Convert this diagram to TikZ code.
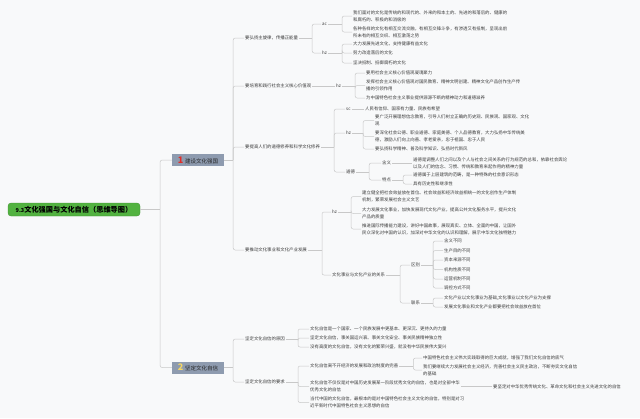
\documentclass[tikz,border=0pt]{standalone}
\usepackage{fontspec}
\setmainfont{Noto Sans CJK SC}
\XeTeXlinebreaklocale "zh"
\definecolor{bggray}{RGB}{248,249,250}
\definecolor{rootgreen}{RGB}{82,178,64}
\definecolor{topicblue}{RGB}{142,155,175}
\definecolor{linegray}{RGB}{200,200,200}
\definecolor{txtgray}{RGB}{60,60,60}
\definecolor{numred}{RGB}{225,45,40}
\definecolor{numyellow}{RGB}{245,215,100}
\begin{document}
\begin{tikzpicture}[x=1pt,y=-1pt,
    leaf/.style={anchor=west,inner sep=1pt,align=left,text=txtgray,font=\fontsize{4.4}{7}\selectfont},
    topic/.style={fill=topicblue,minimum width=52pt,minimum height=12pt,inner sep=0pt,text=black!85,font=\fontsize{5.5}{6}\selectfont},
    link/.style={draw=linegray,line width=0.5pt,rounded corners=2pt}]
    \fill[bggray] (0,0) rectangle (640,418);
    \node[fill=rootgreen,draw=rootgreen!80!black,line width=0.3pt,rounded corners=3pt,minimum width=132pt,minimum height=13pt,inner sep=0pt,font=\fontsize{7.2}{8}\selectfont\bfseries] (root) at (74,209.5) {{\fontsize{5.5}{6}\selectfont 9.3}文化强国与文化自信（思维导图）};
    \node[topic] (t1) at (198,160) {{\color{numred}\fontsize{9}{9}\selectfont\bfseries 1}\hspace{2pt}建设文化强国};
    \node[topic] (t2) at (198,367.5) {{\color{numyellow}\fontsize{9}{9}\selectfont\bfseries 2}\hspace{2pt}坚定文化自信};
    \draw[link] (root.east) -- ++(20,0) coordinate (rootj);
    \foreach \c in {t1,t2} \draw[link] (rootj) |- (\c.west);
    % 建设文化强国
    \node[leaf] (a) at (244,38) {要弘扬主旋律，传播正能量};
    \node[leaf] (b) at (244,86) {要培育和践行社会主义核心价值观};
    \node[leaf] (c) at (244,147) {要提高人们的道德修养和科学文化修养};
    \node[leaf] (d) at (244,250) {要推动文化事业和文化产业发展};
    \draw[link] (t1.east) -- ++(9,0) coordinate (t1j);
    \foreach \c in {a,b,c,d} \draw[link] (t1j) |- (\c.west);
    \node[leaf] (aac) at (321,24) {ac};
    \node[leaf] (ahz) at (321,53) {hz};
    \draw[link] (a.east) -- ++(13,0) coordinate (aj);
    \foreach \c in {aac,ahz} \draw[link] (aj) |- (\c.west);
    \node[leaf] (aac1) at (352,16) {我们面对的文化是传统的和现代的、外来的和本土的、先进的和落后的、健康的\\和腐朽的、积极的和消极的};
    \node[leaf] (aac2) at (352,32) {各种各样的文化有相互交流交融，有相互交锋斗争，有渗透又有抵制，呈现出前\\所未有的相互交织、相互激荡之势};
    \draw[link] (aac.east) -- ++(14,0) coordinate (aacj);
    \foreach \c in {aac1,aac2} \draw[link] (aacj) |- (\c.west);
    \node[leaf] (ahz1) at (352,44) {大力发展先进文化，支持健康有益文化};
    \node[leaf] (ahz2) at (352,53) {努力改造落后的文化};
    \node[leaf] (ahz3) at (352,63) {坚决抵制、抵御腐朽的文化};
    \draw[link] (ahz.east) -- ++(14,0) coordinate (ahzj);
    \foreach \c in {ahz1,ahz2,ahz3} \draw[link] (ahzj) |- (\c.west);
    \node[leaf] (bhz) at (335,86) {hz};
    \draw[link] (b.east) -- (bhz.west);
    \node[leaf] (bhz1) at (365,73) {要用社会主义核心价值观凝魂聚力};
    \node[leaf] (bhz2) at (365,85.5) {发挥社会主义核心价值观对国民教育、精神文明创建、精神文化产品创作生产传\\播的引领作用};
    \node[leaf] (bhz3) at (365,98) {为中国特色社会主义事业提供源源不断的精神动力和道德滋养};
    \draw[link] (bhz.east) -- ++(13,0) coordinate (bhzj);
    \foreach \c in {bhz1,bhz2,bhz3} \draw[link] (bhzj) |- (\c.west);
    \node[leaf] (csc) at (345,109) {sc};
    \node[leaf] (chz) at (345,133) {hz};
    \node[leaf] (cdd) at (345,172) {道德};
    \draw[link] (c.east) -- ++(13,0) coordinate (cj);
    \foreach \c in {csc,chz,cdd} \draw[link] (cj) |- (\c.west);
    \node[leaf] (csc1) at (364,109) {人民有信仰、国家有力量、民族有希望};
    \draw[link] (csc.east) -- (csc1.west);
    \node[leaf] (chz1) at (374,120.5) {要广泛开展理想信念教育，引导人们树立正确的历史观、民族观、国家观、文化\\观};
    \node[leaf] (chz2) at (374,136.5) {要深化社会公德、职业道德、家庭美德、个人品德教育，大力弘扬中华传统美\\德，激励人们向上向善、孝老爱亲，忠于祖国、忠于人民};
    \node[leaf] (chz3) at (374,149) {要弘扬科学精神、普及科学知识、弘扬时代新风};
    \draw[link] (chz.east) -- ++(11,0) coordinate (chzj);
    \foreach \c in {chz1,chz2,chz3} \draw[link] (chzj) |- (\c.west);
    \node[leaf] (cmean) at (381,163) {含义};
    \node[leaf] (cfeat) at (381,180) {特点};
    \draw[link] (cdd.east) -- ++(13,0) coordinate (cddj);
    \foreach \c in {cmean,cfeat} \draw[link] (cddj) |- (\c.west);
    \node[leaf] (cmean1) at (412,163) {道德是调整人们之间以及个人与社会之间关系的行为规范的总和，依靠社会舆论\\以及人们的信念、习惯、传统和教育来起作用的精神力量};
    \draw[link] (cmean.east) -- (cmean1.west);
    \node[leaf] (cfeat1) at (412,175) {道德属于上层建筑的范畴，是一种特殊的社会意识形态};
    \node[leaf] (cfeat2) at (412,184) {具有历史性和继承性};
    \draw[link] (cfeat.east) -- ++(11,0) coordinate (cfeatj);
    \foreach \c in {cfeat1,cfeat2} \draw[link] (cfeatj) |- (\c.west);
    \node[leaf] (dhz) at (331,212) {hz};
    \node[leaf] (drel) at (331,275) {文化事业与文化产业的关系};
    \draw[link] (d.east) -- ++(14,0) coordinate (dj);
    \foreach \c in {dhz,drel} \draw[link] (dj) |- (\c.west);
    \node[leaf] (dhz1) at (361,196.5) {建立健全把社会效益放在首位、社会效益和经济效益相统一的文化创作生产体制\\机制，繁荣发展社会主义文艺};
    \node[leaf] (dhz2) at (361,213.5) {大力发展文化事业，加快发展现代文化产业，提高公共文化服务水平，提升文化\\产品的质量};
    \node[leaf] (dhz3) at (361,229) {推进国际传播能力建设，讲好中国故事，展现真实、立体、全面的中国，让国外\\民众深化对中国的认识，加深对中华文化的认识和理解，展示中华文化独特魅力};
    \draw[link] (dhz.east) -- ++(13,0) coordinate (dhzj);
    \foreach \c in {dhz1,dhz2,dhz3} \draw[link] (dhzj) |- (\c.west);
    \node[leaf] (ddiff) at (410,265) {区别};
    \node[leaf] (dlink) at (410,303) {联系};
    \draw[link] (drel.east) -- ++(14,0) coordinate (drelj);
    \foreach \c in {ddiff,dlink} \draw[link] (drelj) |- (\c.west);
    \node[leaf] (ddiff1) at (443,241) {含义不同};
    \node[leaf] (ddiff2) at (443,250.5) {生产目的不同};
    \node[leaf] (ddiff3) at (443,260) {资本来源不同};
    \node[leaf] (ddiff4) at (443,269.5) {机构性质不同};
    \node[leaf] (ddiff5) at (443,279) {运营机制不同};
    \node[leaf] (ddiff6) at (443,288) {调控方式不同};
    \draw[link] (ddiff.east) -- ++(12,0) coordinate (ddiffj);
    \foreach \c in {ddiff1,ddiff2,ddiff3,ddiff4,ddiff5,ddiff6} \draw[link] (ddiffj) |- (\c.west);
    \node[leaf] (dlink1) at (443,298) {文化产业以文化事业为基础,文化事业以文化产业为支撑};
    \node[leaf] (dlink2) at (443,307) {发展文化事业和文化产业都要把社会效益放在首位};
    \draw[link] (dlink.east) -- ++(12,0) coordinate (dlinkj);
    \foreach \c in {dlink1,dlink2} \draw[link] (dlinkj) |- (\c.west);
    % 坚定文化自信
    \node[leaf] (g) at (244,339) {坚定文化自信的原因};
    \node[leaf] (h) at (244,382) {坚定文化自信的要求};
    \draw[link] (t2.east) -- ++(9,0) coordinate (t2j);
    \foreach \c in {g,h} \draw[link] (t2j) |- (\c.west);
    \node[leaf] (g1) at (309,329) {文化自信是一个国家、一个民族发展中更基本、更深沉、更持久的力量};
    \node[leaf] (g2) at (309,338) {坚定文化自信，事关国运兴衰、事关文化安全、事关民族精神独立性};
    \node[leaf] (g3) at (309,347) {没有高度的文化自信，没有文化的繁荣兴盛，就没有中华民族伟大复兴};
    \draw[link] (g.east) -- ++(12,0) coordinate (gj);
    \foreach \c in {g1,g2,g3} \draw[link] (gj) |- (\c.west);
    \node[leaf] (h1) at (309,366) {文化自信离不开经济的发展和政治制度的完善};
    \node[leaf] (h2) at (309,386.5) {文化自信不仅仅是对中国历史发展某一阶段优秀文化的自信，也是对全部中华\\优秀文化的自信};
    \node[leaf] (h3) at (309,402.5) {当代中国的文化自信，最根本的是对中国特色社会主义文化的自信，特别是对习\\近平新时代中国特色社会主义思想的自信};
    \draw[link] (h.east) -- ++(12,0) coordinate (hj);
    \foreach \c in {h1,h2,h3} \draw[link] (hj) |- (\c.west);
    \node[leaf] (h1a) at (422,358) {中国特色社会主义伟大实践取得的巨大成就，增强了我们文化自信的底气};
    \node[leaf] (h1b) at (422,370) {我们要继续大力发展社会主义经济，完善社会主义民主政治，不断夯实文化自信\\的基础};
    \draw[link] (h1.east) -- ++(14,0) coordinate (h1j);
    \foreach \c in {h1a,h1b} \draw[link] (h1j) |- (\c.west);
    \node[leaf] (h2a) at (492,386.5) {要坚定对中华优秀传统文化、革命文化和社会主义先进文化的自信};
    \draw[link] (h2.east) -- (h2a.west);
\end{tikzpicture}
\end{document}
